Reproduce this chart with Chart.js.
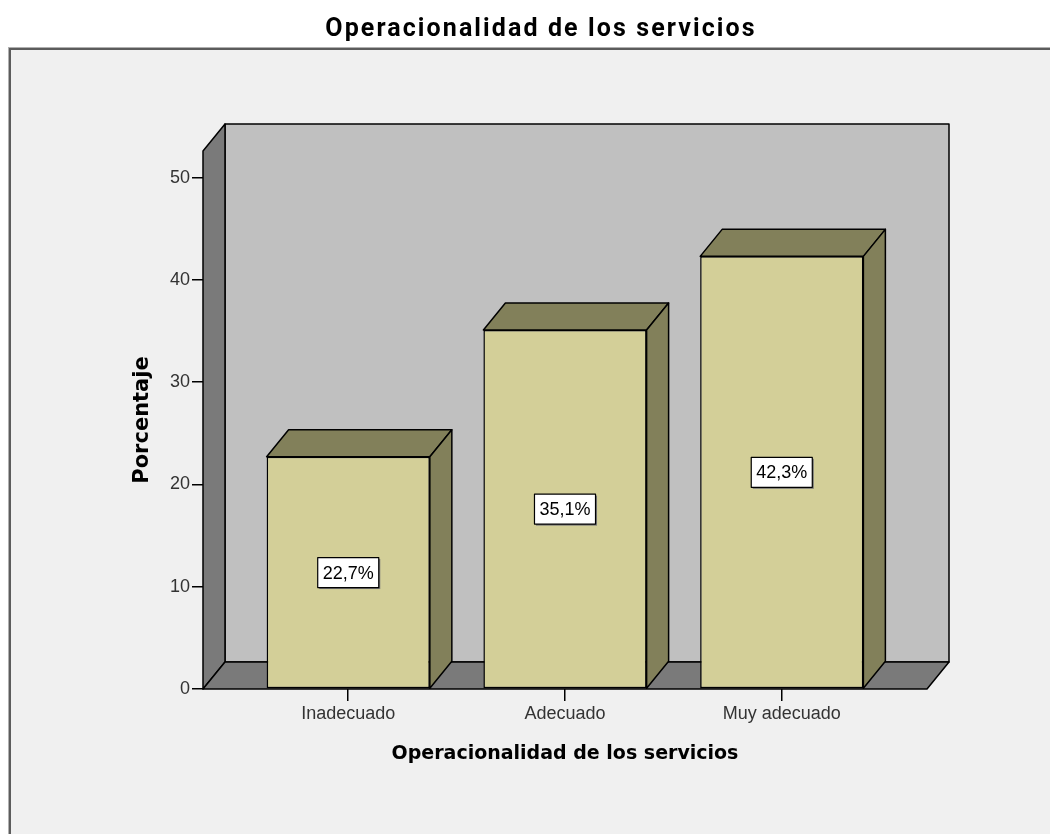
<!DOCTYPE html>
<html><head><meta charset="utf-8">
<script src="https://cdn.jsdelivr.net/npm/chart.js@4.4.0/dist/chart.umd.min.js"></script>
<style>html,body{margin:0;padding:0;background:#fff;}canvas{display:block;}</style>
</head><body>
<canvas id="c" width="1050" height="834"></canvas>
<script>
const chartTitle = 'Operacionalidad de los servicios';
const categories = ['Inadecuado', 'Adecuado', 'Muy adecuado'];
const percentages = [22.7, 35.1, 42.3];
const yTicks = [0, 10, 20, 30, 40, 50];
const yAxisTitle = 'Porcentaje';
const xAxisTitle = 'Operacionalidad de los servicios';
const yMax = 52.6;
const xMin = -0.67, xMax = 2.67;

const DX = 22, DY = 27;
const FRONT = '#d3cf98', DARKFACE = '#82805a', BACKWALL = '#c0c0c0', SIDEWALL = '#7a7a7a';

function poly(ctx, pts, fill) {
  ctx.beginPath();
  ctx.moveTo(pts[0][0], pts[0][1]);
  for (let i = 1; i < pts.length; i++) ctx.lineTo(pts[i][0], pts[i][1]);
  ctx.closePath();
  ctx.fillStyle = fill; ctx.fill();
  ctx.stroke();
}

const plugin3d = {
  id: 'plugin3d',
  beforeDraw(chart) {
    const ctx = chart.ctx, W = chart.width, H = chart.height;
    ctx.save();
    ctx.fillStyle = '#fff'; ctx.fillRect(0, 0, W, H);
    ctx.fillStyle = '#f0f0f0'; ctx.fillRect(9, 48, W, H);
    ctx.fillStyle = '#b0b0b0'; ctx.fillRect(8, 47, W, 1); ctx.fillRect(8, 47, 1, H);
    ctx.fillStyle = '#5c5c5c'; ctx.fillRect(9, 48, W, 2); ctx.fillRect(9, 48, 2, H);
    ctx.fillStyle = '#000';
    ctx.font = 'bold 25px Roboto';
    if ('letterSpacing' in ctx) ctx.letterSpacing = '2.1px';
    ctx.textAlign = 'center'; ctx.textBaseline = 'middle';
    ctx.fillText(chartTitle, 541, 30);
    ctx.restore();
  },
  beforeDatasetsDraw(chart) {
    const ctx = chart.ctx;
    const {left, right, top, bottom} = chart.chartArea;
    ctx.save();
    ctx.strokeStyle = '#000'; ctx.lineWidth = 1.5; ctx.lineJoin = 'round';
    ctx.fillStyle = BACKWALL;
    ctx.fillRect(left + DX, top - DY, right - left, bottom - top);
    ctx.strokeRect(left + DX, top - DY, right - left, bottom - top);
    poly(ctx, [[left, top], [left + DX, top - DY], [left + DX, bottom - DY], [left, bottom]], SIDEWALL);
    poly(ctx, [[left, bottom], [left + DX, bottom - DY], [right + DX, bottom - DY], [right, bottom]], SIDEWALL);
    ctx.restore();
  },
  afterDatasetsDraw(chart) {
    const ctx = chart.ctx;
    const meta = chart.getDatasetMeta(0);
    ctx.save();
    ctx.strokeStyle = '#000'; ctx.lineWidth = 1.5; ctx.lineJoin = 'round';
    meta.data.forEach((bar, i) => {
      const {x, y, base, width} = bar.getProps(['x', 'y', 'base', 'width'], true);
      const l = x - width / 2, r = x + width / 2;
      poly(ctx, [[l, y], [l + DX, y - DY], [r + DX, y - DY], [r, y]], DARKFACE);
      poly(ctx, [[r, y], [r + DX, y - DY], [r + DX, base - DY], [r, base]], DARKFACE);
    });
    ctx.font = '18px "Liberation Sans"';
    ctx.textAlign = 'center'; ctx.textBaseline = 'middle';
    meta.data.forEach((bar, i) => {
      const {x, y, base} = bar.getProps(['x', 'y', 'base'], true);
      const txt = percentages[i].toFixed(1).replace('.', ',') + '%';
      const cy = (y + base) / 2;
      const tw = ctx.measureText(txt).width;
      const bw = tw + 10, bh = 30;
      ctx.fillStyle = '#777';
      ctx.fillRect(x - bw / 2 + 1.5, cy - bh / 2 + 1.5, bw, bh);
      ctx.fillStyle = '#fff';
      ctx.fillRect(x - bw / 2, cy - bh / 2, bw, bh);
      ctx.lineWidth = 1.2;
      ctx.strokeRect(x - bw / 2, cy - bh / 2, bw, bh);
      ctx.fillStyle = '#000';
      ctx.fillText(txt, x, cy + 1);
    });
    ctx.restore();
  }
};

new Chart(document.getElementById('c'), {
  type: 'bar',
  data: {
    datasets: [{
      data: categories.map((c, i) => ({x: i, y: percentages[i]})),
      backgroundColor: FRONT,
      borderColor: '#000',
      borderWidth: 1.5,
      borderSkipped: false,
      barPercentage: 0.753,
      categoryPercentage: 1
    }]
  },
  options: {
    responsive: false,
    animation: false,
    events: [],
    layout: {padding: {left: 0, right: 123, top: 151, bottom: 0}},
    plugins: {legend: {display: false}, tooltip: {enabled: false}, title: {display: false}},
    scales: {
      x: {
        type: 'linear', min: xMin, max: xMax, offset: false,
        afterBuildTicks(s) { s.ticks = categories.map((c, i) => ({value: i})); },
        afterFit(s) { s.height = 145; },
        ticks: {
          callback: (v) => categories[v] !== undefined ? categories[v] : '',
          font: {family: 'Liberation Sans', size: 18}, color: '#333', padding: 2,
          maxRotation: 0, autoSkip: false
        },
        grid: {offset: false, drawOnChartArea: false, drawTicks: true, tickLength: 12, color: '#000', lineWidth: 1.5},
        border: {display: false},
        title: {display: true, text: xAxisTitle, color: '#000',
          font: {family: 'DejaVu Sans', size: 19, weight: 'bold'}, padding: {top: 0, bottom: 69}}
      },
      y: {
        min: 0, max: yMax,
        afterBuildTicks(s) { s.ticks = yTicks.map(v => ({value: v})); },
        afterFit(s) { s.width = 203; },
        ticks: {font: {family: 'Liberation Sans', size: 18}, color: '#333', padding: 2},
        grid: {drawOnChartArea: false, drawTicks: true, tickLength: 11, color: '#000', lineWidth: 1.5},
        border: {display: false},
        title: {display: true, text: yAxisTitle, color: '#000',
          font: {family: 'DejaVu Sans', size: 21, weight: 'bold'}, padding: {top: 130, bottom: 0}}
      }
    }
  },
  plugins: [plugin3d]
});
</script>
</body></html>
